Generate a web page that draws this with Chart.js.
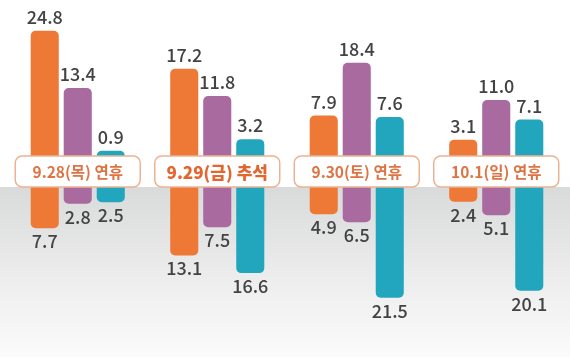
<!DOCTYPE html>
<html><head><meta charset="utf-8">
<script src="https://cdn.jsdelivr.net/npm/chart.js@4.4.0/dist/chart.umd.min.js"></script>
<style>html,body{margin:0;padding:0;background:#fff;overflow:hidden}#wrap{width:570px;height:357px;position:relative}canvas{display:block}</style>
</head><body><div id="wrap"><canvas id="c" width="570" height="357"></canvas></div>
<script>
const categories = ['9.28(목) 연휴', '9.29(금) 추석', '9.30(토) 연휴', '10.1(일) 연휴'];
const orangeUp   = [24.8, 17.2, 7.9, 3.1];
const purpleUp   = [13.4, 11.8, 18.4, 11.0];
const tealUp     = [0.9, 3.2, 7.6, 7.1];
const orangeDown = [7.7, 13.1, 4.9, 2.4];
const purpleDown = [2.8, 7.5, 6.5, 5.1];
const tealDown   = [2.5, 16.6, 21.5, 20.1];
const highlight  = ['9.29(금) 추석'];

const ORANGE = '#ee7835', PURPLE = '#a96aa0', TEAL = '#22a6be';

function rr(ctx, x, y, w, h, r) {
  ctx.beginPath();
  ctx.moveTo(x + r, y);
  ctx.arcTo(x + w, y, x + w, y + h, r);
  ctx.arcTo(x + w, y + h, x, y + h, r);
  ctx.arcTo(x, y + h, x, y, r);
  ctx.arcTo(x, y, x + w, y, r);
  ctx.closePath();
}

const bgPlugin = {
  id: 'bg',
  beforeDraw(chart) {
    const { ctx, width, height } = chart;
    ctx.save();
    ctx.fillStyle = '#ffffff';
    ctx.fillRect(0, 0, width, height);
    const top = 187;
    const g = ctx.createLinearGradient(0, top, 0, height);
    g.addColorStop(0, '#d9dada');
    g.addColorStop(0.6, '#efefef');
    g.addColorStop(1, '#fbfbfb');
    ctx.fillStyle = g;
    ctx.fillRect(0, top, width, height - top);
    ctx.restore();
  }
};

const labelPlugin = {
  id: 'vals',
  afterDatasetsDraw(chart) {
    const { ctx } = chart;
    ctx.save();
    ctx.fillStyle = '#434343';
    ctx.font = '500 18px "Noto Sans CJK KR", "Noto Sans", sans-serif';
    ctx.textAlign = 'center';
    chart.data.datasets.forEach((ds, i) => {
      const meta = chart.getDatasetMeta(i);
      meta.data.forEach((el, j) => {
        const txt = ds.data[j].toFixed(1);
        if (ds.yAxisID === 'yTop') {
          ctx.textBaseline = 'alphabetic';
          ctx.fillText(txt, el.x, el.y - 7);
        } else {
          ctx.textBaseline = 'alphabetic';
          ctx.fillText(txt, el.x, el.y + 20);
        }
      });
    });
    ctx.restore();
  }
};

const boxPlugin = {
  id: 'boxes',
  afterDatasetsDraw(chart) {
    const { ctx } = chart;
    const xs = chart.scales.x;
    ctx.save();
    chart.data.labels.forEach((lab, i) => {
      const cx = xs.getPixelForValue(i);
      const w = 125, h = 31, y = 156;
      rr(ctx, cx - w / 2, y, w, h, 7);
      ctx.fillStyle = '#ffffff';
      ctx.fill();
      ctx.lineWidth = 1.5;
      ctx.strokeStyle = '#ebb393';
      ctx.stroke();
      const hi = highlight.includes(lab);
      ctx.fillStyle = hi ? '#e3652f' : '#de7444';
      ctx.font = hi ? '800 17px "Noto Sans CJK KR", sans-serif' : '700 15.5px "Noto Sans CJK KR", sans-serif';
      ctx.textAlign = 'center';
      ctx.textBaseline = 'middle';
      ctx.fillText(lab, cx, y + h / 2 + 1);
    });
    ctx.restore();
  }
};

function ds(data, color, axis, stack) {
  return {
    data, backgroundColor: color, yAxisID: axis, stack,
    base: -3, borderRadius: 5, borderSkipped: 'start',
    barPercentage: 0.85, categoryPercentage: 0.71
  };
}

new Chart(document.getElementById('c'), {
  type: 'bar',
  data: {
    labels: categories,
    datasets: [
      ds(orangeUp, ORANGE, 'yTop', 'o'),
      ds(purpleUp, PURPLE, 'yTop', 'p'),
      ds(tealUp, TEAL, 'yTop', 't'),
      ds(orangeDown, ORANGE, 'yBot', 'o'),
      ds(purpleDown, PURPLE, 'yBot', 'p'),
      ds(tealDown, TEAL, 'yBot', 't')
    ]
  },
  options: {
    responsive: false,
    animation: false,
    events: [],
    layout: { padding: { left: 8, right: 4, top: 0, bottom: 0 } },
    plugins: { legend: { display: false }, tooltip: { enabled: false } },
    scales: {
      x: { display: false, offset: true },
      yTop: { display: false, stacked: false, min: -40.2, max: 30.92 },
      yBot: { display: false, stacked: false, reverse: true, min: -37.69, max: 33.28 }
    }
  },
  plugins: [bgPlugin, labelPlugin, boxPlugin]
});
</script>
</body></html>
